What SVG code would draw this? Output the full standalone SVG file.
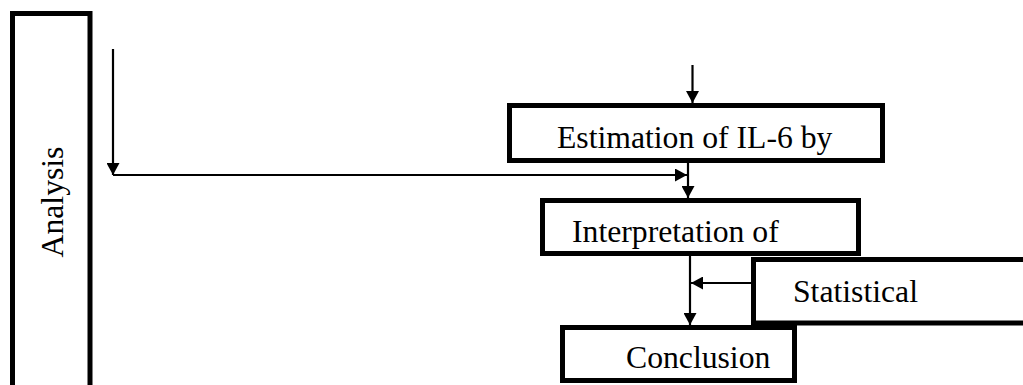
<svg xmlns="http://www.w3.org/2000/svg" width="1023" height="385" viewBox="0 0 1023 385">
<style>
.box{fill:#fff;stroke:#000;stroke-width:5}
.lbl{font-family:"Liberation Serif","Times New Roman",serif;font-size:31.7px;fill:#000}
.con{stroke:#000;stroke-width:2.2;fill:none}
</style>
<defs>
<marker id="ah" markerUnits="userSpaceOnUse" markerWidth="12" markerHeight="13" refX="12" refY="6.5" orient="auto" viewBox="0 0 12 13">
<path d="M0,0 L12,6.5 L0,13 z" fill="#000"/>
</marker>
</defs>
<rect width="1023" height="385" fill="#fff"/>
<g id="analysis">
<rect class="box" x="12.5" y="13.5" width="77.5" height="400"/>
<text class="lbl" transform="translate(63,202) rotate(-90)" text-anchor="middle">Analysis</text>
</g>
<g id="estimation">
<rect class="box" x="509.5" y="105.5" width="373" height="55"/>
<text class="lbl" x="557" y="148">Estimation of IL-6 by</text>
</g>
<g id="interpretation">
<rect class="box" x="542.5" y="200.5" width="316" height="53"/>
<text class="lbl" x="572" y="242">Interpretation of</text>
</g>
<g id="statistical">
<rect class="box" x="753.5" y="259.5" width="300" height="63.5"/>
<text class="lbl" x="793" y="302">Statistical</text>
</g>
<g id="conclusion">
<rect class="box" x="562.5" y="327.5" width="232" height="53"/>
<text class="lbl" x="626" y="368">Conclusion</text>
</g>
<g id="connectors">
<line class="con" x1="113" y1="49" x2="113" y2="175" marker-end="url(#ah)"/>
<line class="con" x1="113" y1="175" x2="687" y2="175" marker-end="url(#ah)"/>
<line class="con" x1="692.5" y1="65" x2="692.5" y2="103" marker-end="url(#ah)"/>
<line class="con" x1="688" y1="163" x2="688" y2="198" marker-end="url(#ah)"/>
<line class="con" x1="690" y1="256" x2="690" y2="325" marker-end="url(#ah)"/>
<line class="con" x1="751" y1="283" x2="691" y2="283" marker-end="url(#ah)"/>
</g>
</svg>
